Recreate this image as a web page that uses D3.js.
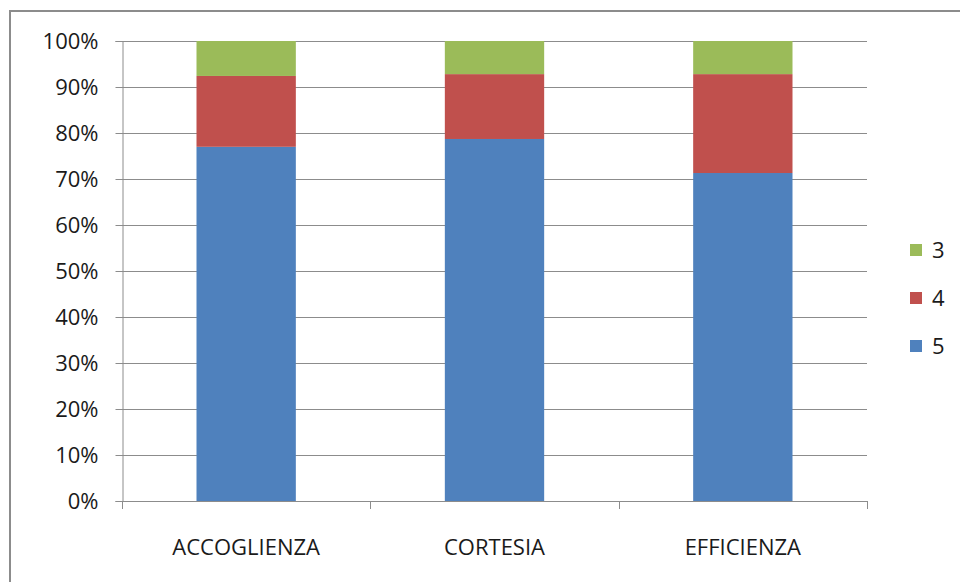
<!DOCTYPE html>
<html>
<head>
<meta charset="utf-8">
<script src="https://cdn.jsdelivr.net/npm/d3@7"></script>
<style>
  body { margin: 0; background: #fff; }
  svg { display: block; font-family: "Open Sans", "Liberation Sans", sans-serif; }
</style>
</head>
<body>
<script>
// data
var categories = ["ACCOGLIENZA", "CORTESIA", "EFFICIENZA"];
var series = ["5", "4", "3"];
var values5 = [0.770, 0.787, 0.713];
var values4 = [0.154, 0.141, 0.215];
var values3 = [0.076, 0.072, 0.072];
var yTicks = [0, 0.1, 0.2, 0.3, 0.4, 0.5, 0.6, 0.7, 0.8, 0.9, 1.0];
var colors = {"5": "#4F81BD", "4": "#C0504D", "3": "#9BBB59"};

var W = 960, H = 582;
var margin = {left: 122, top: 41, right: 93, bottom: 81};
var fontSize = 22;

var svg = d3.select("body").append("svg")
    .attr("width", W).attr("height", H);

// outer frame
svg.append("rect")
    .attr("x", 10).attr("y", 11)
    .attr("width", W + 10).attr("height", H + 10)
    .attr("fill", "none").attr("stroke", "#8c8c8c").attr("stroke-width", 2);

var x = d3.scaleBand()
    .domain(categories)
    .range([margin.left, W - margin.right])
    .paddingInner(0.6).paddingOuter(0.3);

var y = d3.scaleLinear()
    .domain([0, 1])
    .range([H - margin.bottom, margin.top]);

// gridlines
svg.append("g").selectAll("line")
    .data(yTicks.slice(1))
    .join("line")
    .attr("x1", margin.left).attr("x2", W - margin.right)
    .attr("y1", d => Math.round(y(d)) + 0.5).attr("y2", d => Math.round(y(d)) + 0.5)
    .attr("stroke", "#8c8c8c").attr("stroke-width", 1);

// stacked bars
var rows = categories.map((c, i) => ({cat: c, "5": values5[i], "4": values4[i], "3": values3[i]}));
var stack = d3.stack().keys(series)(rows);

svg.append("g").selectAll("g")
    .data(stack)
    .join("g")
    .attr("fill", d => colors[d.key])
    .selectAll("rect")
    .data(d => d)
    .join("rect")
    .attr("x", d => x(d.data.cat))
    .attr("width", x.bandwidth())
    .attr("y", d => y(d[1]))
    .attr("height", d => y(d[0]) - y(d[1]));

// y axis
var yAxis = d3.axisLeft(y)
    .tickValues(yTicks)
    .tickFormat(d3.format(".0%"))
    .tickSize(7).tickPadding(17);
var ga = svg.append("g")
    .attr("transform", "translate(" + (margin.left + 0.5) + ",0)")
    .call(yAxis)
    .attr("font-family", null).attr("font-size", fontSize);
ga.selectAll("text").attr("fill", "#1a1a1a");
ga.select(".domain").attr("stroke", "#8c8c8c");
ga.selectAll(".tick line").attr("stroke", "#8c8c8c");

// x axis with boundary ticks
var xb = svg.append("g");
xb.append("line")
    .attr("x1", margin.left).attr("x2", W - margin.right)
    .attr("y1", y(0) + 0.5).attr("y2", y(0) + 0.5)
    .attr("stroke", "#8c8c8c");
var bounds = categories.map(c => x(c) - x.step() * x.paddingInner() / 2);
bounds.push(W - margin.right);
bounds[0] = margin.left;
xb.selectAll("line.tk")
    .data(bounds)
    .join("line").attr("class", "tk")
    .attr("x1", d => Math.round(d) + 0.5).attr("x2", d => Math.round(d) + 0.5)
    .attr("y1", y(0)).attr("y2", y(0) + 8)
    .attr("stroke", "#8c8c8c");
xb.selectAll("text")
    .data(categories)
    .join("text")
    .attr("x", d => x(d) + x.bandwidth() / 2)
    .attr("y", 555)
    .attr("text-anchor", "middle")
    .attr("font-size", fontSize).attr("fill", "#1a1a1a")
    .text(d => d);

// legend
var legendKeys = ["3", "4", "5"];
var lg = svg.append("g").selectAll("g")
    .data(legendKeys)
    .join("g")
    .attr("transform", (d, i) => "translate(910," + (244 + i * 48) + ")");
lg.append("rect").attr("width", 12).attr("height", 12).attr("fill", d => colors[d]);
lg.append("text").attr("x", 22).attr("y", 14)
    .attr("font-size", fontSize).attr("fill", "#1a1a1a").text(d => d);
</script>
</body>
</html>
